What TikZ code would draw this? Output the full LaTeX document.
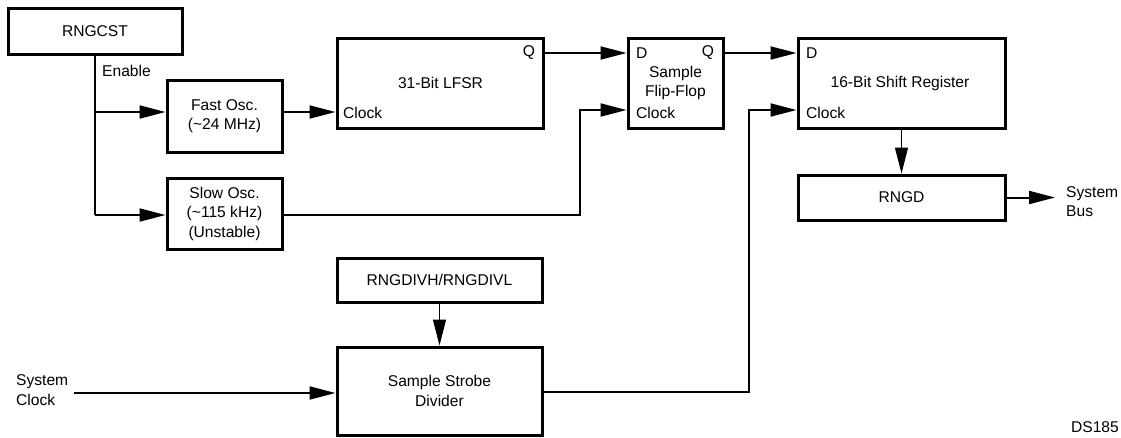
\documentclass[tikz,border=0pt]{standalone}
\usepackage{fontspec}
\setmainfont{Liberation Sans}
\usetikzlibrary{arrows.meta}
\begin{document}
\begin{tikzpicture}[x=1pt,y=-1pt,
  font=\fontsize{15.6}{19.5}\selectfont,
  blk/.style={draw,line width=3pt,rectangle,inner sep=0pt,align=center},
  lbl/.style={inner sep=0pt,align=left},
  wire/.style={line width=2pt},
  arr/.style={line width=2pt,-{Triangle[length=26pt,width=13pt]}},
  tarr/.style={line width=1.3pt,-{Triangle[length=26pt,width=13pt]}}]
\useasboundingbox (0,0) rectangle (1121,437);
% blocks
\node[blk,minimum width=174pt,minimum height=46pt] (rngcst) at (95,31) {RNGCST};
\node[blk,minimum width=115pt,minimum height=72pt] (fast) at (224.5,116) {Fast Osc.\\(\textasciitilde24 MHz)};
\node[blk,minimum width=115pt,minimum height=71pt] (slow) at (224.5,213.5) {Slow Osc.\\(\textasciitilde115 kHz)\\(Unstable)};
\node[blk,minimum width=206pt,minimum height=90pt] (lfsr) at (440,83) {};
\node[blk,minimum width=95pt,minimum height=90pt] (ff) at (675.5,83) {};
\node[blk,minimum width=207pt,minimum height=90pt] (sr) at (901.5,83) {};
\node[blk,minimum width=207pt,minimum height=45pt] (rngd) at (901.5,197.5) {RNGD};
\node[blk,minimum width=205pt,minimum height=44pt] (rngdiv) at (439.5,280) {RNGDIVH/RNGDIVL};
\node[blk,minimum width=205pt,minimum height=88pt] (div) at (439.5,391) {Sample Strobe\\Divider};
% texts inside blocks
\node[lbl] (lfsrt) at (440.5,83) {31-Bit LFSR};
\node[lbl,anchor=west] (lfsrclk) at (343,113) {Clock};
\node[lbl] (lfsrq) at (529,53) {Q};
\node[lbl,anchor=west] (ffd) at (636,53) {D};
\node[lbl] (ffq) at (708,53) {Q};
\node[lbl,align=center] (fft) at (675.5,83) {Sample\\Flip-Flop};
\node[lbl,anchor=west] (ffclk) at (636,113) {Clock};
\node[lbl,anchor=west] (srd) at (806,53) {D};
\node[lbl] (srt) at (900,83) {16-Bit Shift Register};
\node[lbl,anchor=west] (srclk) at (806,113) {Clock};
% outside labels
\node[lbl,anchor=west] (enable) at (102,71) {Enable};
\node[lbl,anchor=west] (sysbus) at (1066,201.5) {System\\Bus};
\node[lbl,anchor=west] (sysclk) at (16,390) {System\\Clock};
\node[lbl,anchor=east] (ds) at (1119,427) {DS185};
% connection points
\coordinate (busend) at (1055,197.5);
\coordinate (clkstart) at (74,393);
% connectors
\draw[wire] (rngcst.south) -- (rngcst.south |- 0,215);
\draw[arr] (rngcst.south |- 0,112) -- (fast.west |- 0,112);
\draw[arr] (rngcst.south |- 0,215) -- (slow.west |- 0,215);
\draw[arr] (fast.east |- 0,112) -- (lfsr.west |- 0,112);
\draw[arr] (lfsr.east |- 0,53) -- (ff.west |- 0,53);
\draw[arr] (slow.east |- 0,215) -- ++(296,0) |- (ff.west |- 0,110);
\draw[arr] (ff.east |- 0,53) -- (sr.west |- 0,53);
\draw[arr] (div.east |- 0,392) -- ++(205,0) |- (sr.west |- 0,110);
\draw[tarr] (sr.south) -- (rngd.north);
\draw[arr] (rngd.east) -- (busend);
\draw[tarr] (rngdiv.south) -- (div.north);
\draw[arr] (clkstart) -- (div.west |- clkstart);
\end{tikzpicture}
\end{document}
